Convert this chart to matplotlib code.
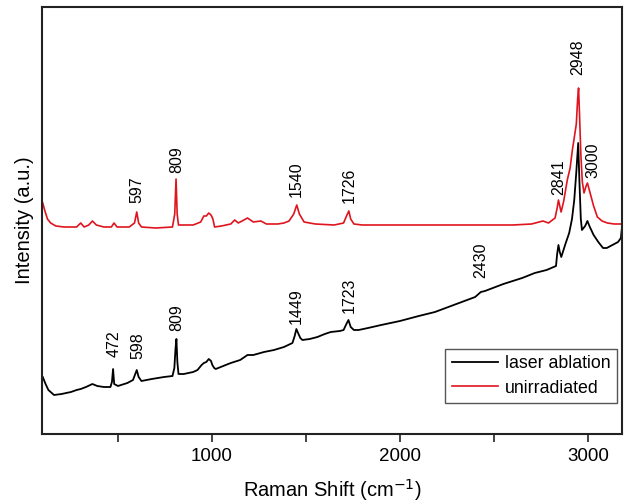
import matplotlib
matplotlib.use("Agg")
import matplotlib.pyplot as plt
from matplotlib.ticker import MultipleLocator

plt.rcParams['font.family'] = ['Liberation Sans', 'DejaVu Sans']

# laser ablation spectrum (wavenumber, intensity a.u.)
ablation_x = [100, 115, 130, 160, 200, 250, 280, 302, 330, 364, 390, 425, 460, 468, 474, 480,
              500, 550, 580, 592, 600, 610, 625, 680, 745, 790, 800, 806, 811, 816, 822, 850,
              900, 923, 945, 957, 970, 983, 995, 1002, 1012, 1020, 1060, 1100, 1150, 1189, 1220,
              1277, 1330, 1383, 1428, 1440, 1449, 1458, 1470, 1481, 1520, 1561, 1600, 1632, 1680,
              1700, 1715, 1726, 1738, 1755, 1780, 1830, 1900, 2000, 2100, 2186, 2300, 2400, 2430,
              2452, 2550, 2650, 2717, 2780, 2830, 2836, 2843, 2850, 2858, 2880, 2900, 2915, 2927,
              2938, 2948, 2955, 2962, 2968, 2985, 2997, 3010, 3030, 3055, 3080, 3100, 3130, 3160,
              3175, 3181]
ablation_y = [57, 50, 44, 39, 40, 42, 44, 45, 47, 50, 48, 47, 47, 52, 65, 50,
              48, 51, 54, 60, 64, 57, 53, 55, 57, 58, 66, 85, 95, 72, 60, 60,
              62, 64, 69, 71, 72, 75, 73, 69, 66, 65, 68, 71, 74, 79, 79,
              82, 84, 87, 91, 98, 105, 101, 96, 94, 95, 97, 100, 102, 103,
              104, 110, 114, 107, 104, 104, 106, 109, 113, 118, 122, 130, 137, 142,
              143, 150, 156, 161, 164, 168, 180, 189, 182, 177, 190, 201, 215, 234,
              262, 291, 250, 215, 204, 208, 213, 207, 199, 192, 186, 186, 189, 192,
              196, 207]

# unirradiated spectrum
unirr_x = [100, 110, 125, 142, 170, 213, 280, 302, 320, 345, 364, 385, 425, 465, 479, 495,
           560, 588, 600, 610, 625, 700, 790, 802, 809, 815, 822, 900, 940, 957, 970, 983,
           995, 1005, 1014, 1050, 1100, 1121, 1140, 1160, 1189, 1220, 1260, 1290, 1350, 1383,
           1410, 1435, 1451, 1465, 1490, 1550, 1650, 1700, 1718, 1728, 1738, 1755, 1800, 2000,
           2300, 2600, 2700, 2760, 2790, 2825, 2836, 2843, 2850, 2857, 2870, 2890, 2905, 2917,
           2930, 2938, 2945, 2950, 2955, 2962, 2970, 2979, 2990, 2997, 3010, 3030, 3050, 3075,
           3103, 3140, 3181]
unirr_y = [231, 224, 215, 211, 208, 207, 207, 211, 207, 209, 213, 209, 207, 207, 211, 207,
           207, 211, 222, 211, 207, 206, 207, 220, 255, 220, 209, 209, 212, 218, 218, 221,
           219, 215, 207, 208, 210, 214, 211, 213, 216, 212, 213, 210, 210, 211,
           213, 220, 229, 220, 212, 210, 209, 211, 219, 223, 215, 210, 209, 209,
           209, 209, 210, 213, 211, 216, 226, 234, 228, 222, 232, 254, 266, 284,
           300, 310, 335, 346, 320, 280, 252, 241, 248, 251, 242, 228, 217, 213,
           211, 210, 210]

# peak labels: text, x position, bottom of text
unirr_labels = ["597", "809", "1540", "1726", "2841", "2948", "3000"]
unirr_label_x = [600, 811, 1451, 1728, 2843, 2948, 3024]
unirr_label_y = [231, 261, 237, 231, 239, 359, 256]

ablation_labels = ["472", "598", "809", "1449", "1723", "2430"]
ablation_label_x = [479, 607, 811, 1449, 1729, 2430]
ablation_label_y = [77, 75, 103, 110, 121, 156]

fig = plt.figure(figsize=(6.26, 5.04), dpi=100)
ax = fig.add_axes([42 / 626, 70 / 504, 580 / 626, 427 / 504])

ax.plot(ablation_x, ablation_y, color='black', lw=1.3, label='laser ablation')
ax.plot(unirr_x, unirr_y, color='#e0141e', lw=1.2, label='unirradiated')

for t, x, y in zip(unirr_labels, unirr_label_x, unirr_label_y):
    ax.text(x, y, t, rotation=90, ha='center', va='bottom', fontsize=11.5)
for t, x, y in zip(ablation_labels, ablation_label_x, ablation_label_y):
    ax.text(x, y, t, rotation=90, ha='center', va='bottom', fontsize=11.5)

ax.set_xlim(96, 3181)
ax.set_ylim(0, 427)
ax.xaxis.set_major_locator(MultipleLocator(1000))
ax.xaxis.set_minor_locator(MultipleLocator(500))
ax.tick_params(axis='x', which='both', direction='out', length=6, width=1.2,
               labelsize=13.5, pad=4, color='#222222')
ax.set_yticks([])
for s in ax.spines.values():
    s.set_linewidth(1.5)
    s.set_color('#222222')

ax.set_xlabel('Raman Shift (cm$^{-1}$)', fontsize=14.5, labelpad=9)
ax.set_ylabel('Intensity (a.u.)', fontsize=14.5, labelpad=6)

leg = ax.legend(loc='lower right', bbox_to_anchor=(0.991, 0.073), borderaxespad=0,
                fontsize=12.8, handlelength=2.6, handletextpad=0.4, fancybox=False,
                framealpha=1, edgecolor='#555555', borderpad=0.35, labelspacing=0.4)
leg.get_frame().set_linewidth(1.0)

fig.savefig('out.png', dpi=100)
